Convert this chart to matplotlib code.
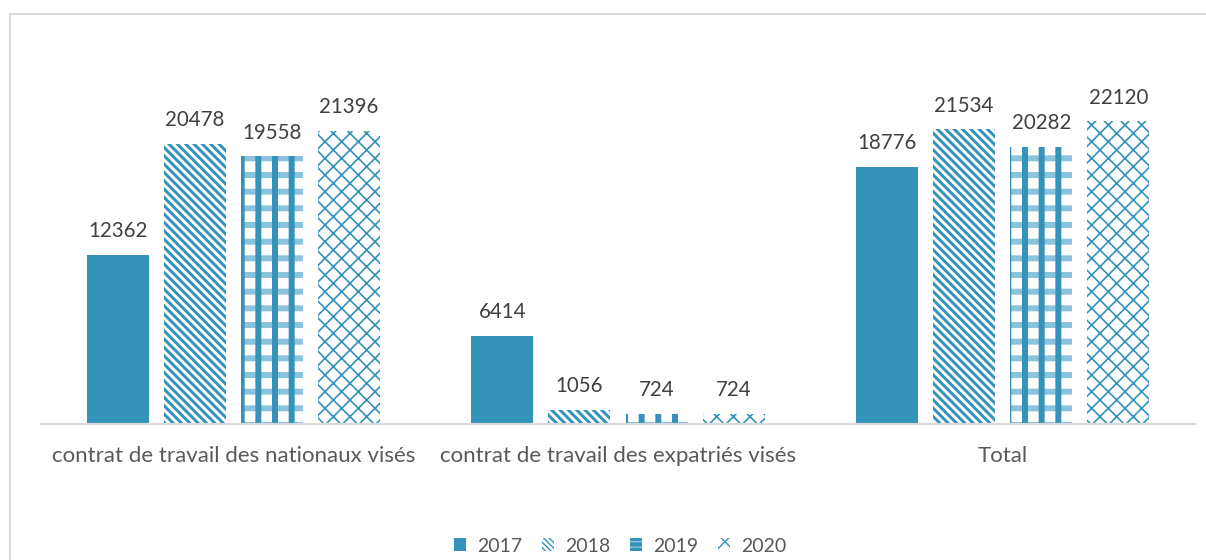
import matplotlib
matplotlib.use("Agg")
import matplotlib.pyplot as plt
from matplotlib.patches import Rectangle, Patch
import numpy as np

categories = ["contrat de travail des nationaux visés",
              "contrat de travail des expatriés visés",
              "Total"]
years = ["2017", "2018", "2019", "2020"]
v2017 = [12362, 6414, 18776]
v2018 = [20478, 1056, 21534]
v2019 = [19558, 724, 20282]
v2020 = [21396, 724, 22120]
series = [v2017, v2018, v2019, v2020]

TEAL = "#3593BA"
LIGHT = "#8CC3DA"
TXT = "#404040"
TXT2 = "#595959"

plt.rcParams['font.family'] = ['Lato', 'DejaVu Sans']

fig = plt.figure(figsize=(12.06, 5.6), dpi=100)
W, H = 1206, 560
ax = fig.add_axes([41 / W, 1 - 424 / H, (1195 - 41) / W, (424 - 82) / H])

# outer border (partially cropped)
fig.patches.append(Rectangle((9.5 / W, -0.1), 1.2, 1 - 13.5 / H + 0.1,
                             transform=fig.transFigure, fill=False,
                             edgecolor="#D9D9D9", linewidth=1.5))

x = np.arange(len(categories))
bw = 62 / 384
step = 77 / 384
offsets = [-1.5 * step, -0.5 * step, 0.5 * step, 1.5 * step]


def set_hlw(p, lw_px):
    if hasattr(p, "set_hatch_linewidth"):
        p.set_hatch_linewidth(lw_px * 0.72)


def hbar(xs, vals, hatch, lw_px, color=TEAL):
    bars = ax.bar(xs, vals, bw, facecolor="none", edgecolor=color,
                  linewidth=0, hatch=hatch)
    for b in bars:
        set_hlw(b, lw_px)
    return bars


with plt.rc_context({'hatch.linewidth': 1.0}):
    # 2017 solid
    ax.bar(x + offsets[0], v2017, bw, color=TEAL, linewidth=0)
    # 2018 dense diagonal stripes
    hbar(x + offsets[1], v2018, "\\\\\\\\", 3.0)
    # 2019 plaid: vertical bars + horizontal bands
    hbar(x + offsets[2], v2019, "-", 6.0, LIGHT)
    hbar(x + offsets[2], v2019, "|", 6.0)
    # 2020 sparse crosshatch
    hbar(x + offsets[3], v2020, "xx", 1.7)

for off, vals in zip(offsets, series):
    for xi, v in zip(x + off, vals):
        ax.annotate(f"{v}", (xi, v), xytext=(0, 10), textcoords="offset points",
                    ha="center", va="bottom", fontsize=14.8, color=TXT)

ax.set_xlim(-0.5, 2.5)
ax.set_ylim(0, 25000)
ax.set_yticks([])
ax.set_xticks(x)
ax.set_xticklabels(categories, fontsize=16, color=TXT2)
ax.tick_params(axis="x", length=0, pad=16)
for s in ["top", "right", "left"]:
    ax.spines[s].set_visible(False)
ax.spines["bottom"].set_color("#D9D9D9")
ax.spines["bottom"].set_linewidth(1.5)

# legend
h2018 = Patch(facecolor="white", edgecolor=TEAL, hatch="\\\\\\\\\\\\", linewidth=0)
set_hlw(h2018, 2.5)
h2019 = Patch(facecolor=TEAL, edgecolor=LIGHT, hatch="---", linewidth=0)
set_hlw(h2019, 2.0)
h2020 = Patch(facecolor="white", edgecolor=TEAL, hatch="xx", linewidth=0)
set_hlw(h2020, 1.5)
handles = [Patch(facecolor=TEAL, edgecolor=TEAL, linewidth=0), h2018, h2019, h2020]
leg = fig.legend(handles, years, loc="center", bbox_to_anchor=(620 / W, 1 - 546 / H),
                 ncol=4, frameon=False, fontsize=14, handlelength=0.65,
                 handleheight=0.65, handletextpad=0.55, columnspacing=1.0)
for t in leg.get_texts():
    t.set_color(TXT2)

fig.savefig("out.png", dpi=100)
